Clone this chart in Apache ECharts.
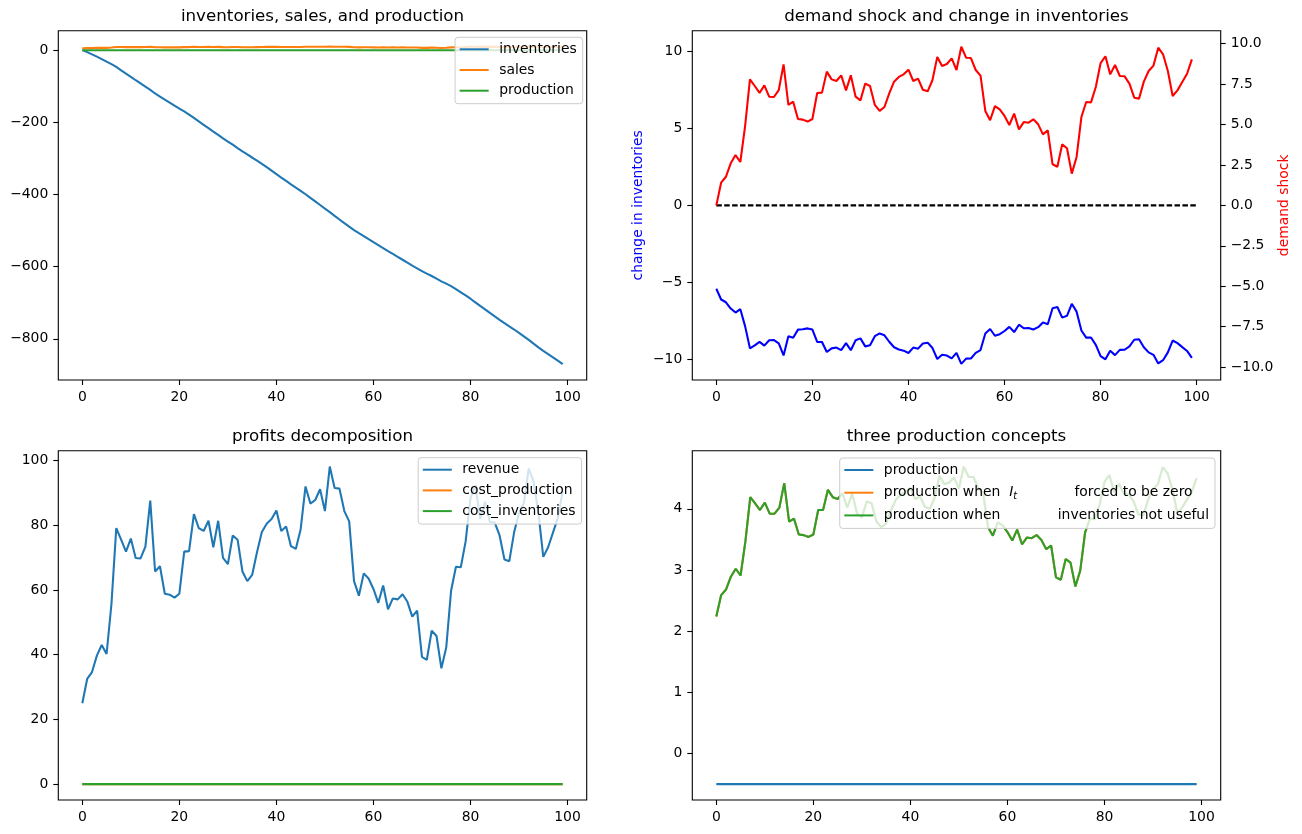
<!DOCTYPE html>
<html><head><meta charset="utf-8">
<script src="https://cdn.jsdelivr.net/npm/echarts@6/dist/echarts.min.js"></script>
<style>html,body{margin:0;padding:0;background:#fff}#c{width:1302px;height:834px}</style>
</head><body><div id="c"></div>
<script>
// ---- data ----
const t = Array.from({length: 100}, (_, i) => i);
const xTicks = [0, 20, 40, 60, 80, 100];

const inventories = [
  0, -5.48, -11.67, -18.04, -24.83, -31.88, -38.70, -46.66, -56.06, -65.26,
  -74.23, -83.45, -92.32, -101.17, -110.24, -120.10, -128.71, -137.41, -145.58, -153.73,
  -161.81, -169.98, -178.96, -187.95, -197.59, -206.99, -216.34, -225.86, -234.92, -244.44,
  -253.30, -262.05, -271.32, -280.52, -289.12, -297.54, -306.08, -315.05, -324.38, -333.85,
  -343.40, -353.10, -362.45, -371.87, -380.95, -389.98, -399.36, -409.45, -419.27, -429.14,
  -439.20, -448.89, -459.31, -469.39, -479.46, -489.15, -498.66, -507.08, -515.21, -523.78,
  -532.25, -540.51, -548.50, -556.83, -564.67, -572.75, -580.81, -588.97, -596.97, -604.67,
  -612.48, -619.25, -625.93, -633.31, -640.57, -647.05, -654.03, -662.26, -670.95, -679.64,
  -688.81, -698.71, -708.83, -718.38, -728.22, -737.73, -747.22, -756.49, -765.32, -774.13,
  -783.46, -793.12, -802.95, -813.34, -823.52, -833.18, -842.07, -851.12, -860.44, -870.01];

const sales = [
  4.93, 5.63, 5.81, 6.22, 6.48, 6.26, 7.38, 8.81, 8.61, 8.39,
  8.63, 8.28, 8.27, 8.48, 9.27, 8.02, 8.12, 7.59, 7.57, 7.51,
  7.59, 8.39, 8.40, 9.05, 8.81, 8.76, 8.93, 8.47, 8.93, 8.28,
  8.16, 8.68, 8.61, 8.02, 7.84, 7.96, 8.38, 8.74, 8.88, 8.96,
  9.11, 8.76, 8.83, 8.49, 8.44, 8.79, 9.50, 9.22, 9.28, 9.46,
  9.10, 9.82, 9.48, 9.47, 9.10, 8.92, 7.84, 7.55, 7.99, 7.89,
  7.68, 7.41, 7.75, 7.27, 7.50, 7.48, 7.58, 7.43, 7.12, 7.24,
  6.20, 6.12, 6.81, 6.69, 5.91, 6.42, 7.65, 8.11, 8.10, 8.58,
  9.31, 9.52, 8.96, 9.25, 8.91, 8.90, 8.68, 8.25, 8.22, 8.74,
  9.07, 9.23, 9.79, 9.58, 9.07, 8.30, 8.47, 8.73, 8.98, 9.43];

const production = Array(100).fill(-0.5);

const changeInventories = [
  -5.43, -6.13, -6.31, -6.72, -6.98, -6.76, -7.88, -9.31, -9.11, -8.89,
  -9.13, -8.78, -8.77, -8.98, -9.77, -8.52, -8.62, -8.09, -8.07, -8.01,
  -8.09, -8.89, -8.90, -9.55, -9.31, -9.26, -9.43, -8.97, -9.43, -8.78,
  -8.66, -9.18, -9.11, -8.52, -8.34, -8.46, -8.88, -9.24, -9.38, -9.46,
  -9.61, -9.26, -9.33, -8.99, -8.94, -9.29, -10.00, -9.72, -9.78, -9.96,
  -9.60, -10.32, -9.98, -9.97, -9.60, -9.42, -8.34, -8.05, -8.49, -8.39,
  -8.18, -7.91, -8.25, -7.77, -8.00, -7.98, -8.08, -7.93, -7.62, -7.74,
  -6.70, -6.62, -7.31, -7.19, -6.41, -6.92, -8.15, -8.61, -8.60, -9.08,
  -9.81, -10.02, -9.46, -9.75, -9.41, -9.40, -9.18, -8.75, -8.72, -9.24,
  -9.57, -9.73, -10.29, -10.08, -9.57, -8.80, -8.97, -9.23, -9.48, -9.93];

const demandShock = [
  0, 1.40, 1.77, 2.60, 3.11, 2.68, 4.91, 7.79, 7.38, 6.95,
  7.42, 6.72, 6.70, 7.13, 8.72, 6.21, 6.41, 5.34, 5.30, 5.18,
  5.34, 6.95, 6.97, 8.27, 7.79, 7.69, 8.04, 7.11, 8.04, 6.72,
  6.49, 7.53, 7.38, 6.21, 5.84, 6.08, 6.93, 7.65, 7.94, 8.10,
  8.39, 7.69, 7.84, 7.15, 7.05, 7.75, 9.18, 8.62, 8.74, 9.09,
  8.37, 9.81, 9.13, 9.11, 8.37, 8.02, 5.84, 5.26, 6.14, 5.94,
  5.53, 4.97, 5.67, 4.70, 5.15, 5.11, 5.32, 5.01, 4.39, 4.64,
  2.54, 2.39, 3.77, 3.53, 1.96, 2.99, 5.46, 6.39, 6.37, 7.32,
  8.80, 9.22, 8.10, 8.68, 8.00, 7.98, 7.53, 6.66, 6.60, 7.65,
  8.31, 8.64, 9.75, 9.34, 8.31, 6.76, 7.11, 7.63, 8.14, 9.03];

const zeroLineT = [0, 100];
const zeroLineV = [0, 0];

const revenue = [
  25.00, 32.49, 34.63, 39.69, 42.97, 40.20, 55.58, 79.12, 75.52, 71.83,
  75.86, 69.89, 69.72, 73.36, 87.61, 65.69, 67.32, 58.83, 58.52, 57.61,
  58.83, 71.83, 72.00, 83.45, 79.12, 78.23, 81.36, 73.19, 81.36, 69.89,
  67.98, 76.83, 75.52, 65.69, 62.73, 64.64, 71.66, 77.88, 80.46, 81.90,
  84.55, 78.23, 79.57, 73.53, 72.68, 78.77, 91.97, 86.68, 87.80, 91.11,
  84.36, 98.11, 91.49, 91.30, 84.36, 81.18, 62.73, 58.22, 65.12, 63.52,
  60.30, 56.03, 61.39, 54.02, 57.38, 57.08, 58.68, 56.33, 51.77, 53.58,
  39.31, 38.38, 47.40, 45.77, 35.76, 42.19, 59.75, 67.16, 66.99, 75.00,
  88.36, 92.35, 81.90, 87.24, 81.00, 80.82, 76.83, 69.39, 68.89, 77.88,
  83.81, 86.86, 97.52, 93.51, 83.81, 70.22, 73.19, 77.70, 82.26, 90.54];
const costProduction = Array(100).fill(0);
const costInventories = Array(100).fill(0);

const prodNotUseful = [
  2.24, 2.59, 2.68, 2.89, 3.02, 2.91, 3.47, 4.19, 4.09, 3.98,
  4.10, 3.92, 3.92, 4.02, 4.42, 3.79, 3.84, 3.58, 3.57, 3.54,
  3.58, 3.98, 3.98, 4.31, 4.19, 4.16, 4.25, 4.02, 4.25, 3.92,
  3.86, 4.12, 4.09, 3.79, 3.70, 3.76, 3.97, 4.15, 4.23, 4.27,
  4.34, 4.16, 4.20, 4.03, 4.00, 4.18, 4.54, 4.40, 4.43, 4.51,
  4.33, 4.69, 4.52, 4.52, 4.33, 4.25, 3.70, 3.56, 3.78, 3.73,
  3.62, 3.48, 3.66, 3.42, 3.53, 3.52, 3.57, 3.49, 3.34, 3.40,
  2.88, 2.84, 3.18, 3.12, 2.73, 2.99, 3.61, 3.84, 3.83, 4.07,
  4.44, 4.55, 4.27, 4.41, 4.24, 4.24, 4.12, 3.91, 3.89, 4.15,
  4.32, 4.40, 4.68, 4.58, 4.32, 3.93, 4.02, 4.15, 4.28, 4.50];
const prodForcedZero = prodNotUseful.slice();
const prodOptimal = Array(100).fill(-0.5);

// ---- chart ----
const FONT = 'DejaVu Sans';
const FS = 13.9;
const C = {blue: '#1f77b4', orange: '#ff7f0e', green: '#2ca02c'};
const minus = v => (v < 0 ? '\u2212' : '') + Math.abs(v);
const minus1 = v => (v < 0 ? '\u2212' : '') + Math.abs(v).toFixed(1);
const pairs = (xs, ys) => xs.map((x, i) => [x, ys[i]]);

const gridBox = (left, top) => ({left, top, width: 528.4, height: 349.3, show: true,
  borderColor: '#000', borderWidth: 1.1, backgroundColor: 'rgba(0,0,0,0)', outerBoundsMode: 'none', containLabel: false});

const tickStyle = {show: true, length: 5, inside: false, lineStyle: {color: '#000', width: 1.1}};
const labelStyle = {color: '#000', fontSize: FS, fontFamily: FONT, margin: 10};

function xAx(gi, min, max) {
  return {type: 'value', gridIndex: gi, min, max, position: 'bottom',
    axisLine: {show: false, onZero: false}, splitLine: {show: false},
    axisTick: Object.assign({customValues: xTicks}, tickStyle),
    axisLabel: Object.assign({customValues: xTicks, formatter: minus}, labelStyle)};
}
function yAx(gi, min, max, ticks, fmt, extra) {
  return Object.assign({type: 'value', gridIndex: gi, min, max, position: 'left',
    axisLine: {show: false, onZero: false}, splitLine: {show: false},
    axisTick: Object.assign({customValues: ticks}, tickStyle),
    axisLabel: Object.assign({customValues: ticks, formatter: fmt}, labelStyle)}, extra || {});
}
function line(name, xi, yi, xs, ys, color, extra) {
  return Object.assign({name, type: 'line', xAxisIndex: xi, yAxisIndex: yi, data: pairs(xs, ys),
    symbol: 'none', color, itemStyle: {color}, lineStyle: {color, width: 2.08}, silent: true, animation: false}, extra || {});
}

const BR1 = 'br_production', BR2 = 'br_forced_zero', BR3 = 'br_not_useful';
const brLabels = {};
brLabels[BR1] = 'production';
brLabels[BR2] = '{t|production when  }{i|I}{s|t}{t|             forced to be zero}';
brLabels[BR3] = 'production when             inventories not useful';

const legendBase = {orient: 'vertical', icon: 'rect', itemWidth: 29, itemHeight: 2, itemGap: 6.7,
  padding: [5, 6, 6, 4.6], backgroundColor: 'rgba(255,255,255,0.8)', borderColor: '#cccccc',
  borderWidth: 1, borderRadius: 3, selectedMode: false,
  textStyle: {color: '#000', fontSize: FS, fontFamily: FONT, lineHeight: 14, padding: [0, 0, 0, 5.5],
    rich: {
      t: {color: '#000', fontSize: FS, fontFamily: FONT, lineHeight: 14},
      i: {color: '#000', fontSize: FS, fontFamily: FONT, fontStyle: 'italic', lineHeight: 14},
      s: {color: '#000', fontSize: 9.7, fontFamily: FONT, fontStyle: 'italic', lineHeight: 10, padding: [8, 0, 0, 0]}
    }}};

const titleStyle = {fontSize: 16.7, fontWeight: 'normal', color: '#000', fontFamily: FONT};
const mkTitle = (text, x, y) => ({text, left: x, top: y, textAlign: 'center', padding: 0, textStyle: titleStyle});

const option = {
  animation: false,
  backgroundColor: '#fff',
  title: [
    mkTitle('inventories, sales, and production', 322.5, 8.3),
    mkTitle('demand shock and change in inventories', 956.5, 8.3),
    mkTitle('profits decomposition', 322.5, 428.3),
    mkTitle('three production concepts', 956.5, 428.3)
  ],
  grid: [gridBox(58.3, 30.7), gridBox(692.3, 30.7), gridBox(58.3, 450.7), gridBox(692.3, 450.7)],
  xAxis: [xAx(0, -4.95, 103.95), xAx(1, -5, 105), xAx(2, -4.95, 103.95), xAx(3, -4.95, 103.95)],
  yAxis: [
    yAx(0, -914.0, 53.8, [-800, -600, -400, -200, 0], minus),
    yAx(1, -11.37, 11.37, [-10, -5, 0, 5, 10], minus, {position: 'left', name: 'change in inventories',
      nameLocation: 'middle', nameGap: 47, nameRotate: 90,
      nameTextStyle: {color: '#0000ff', fontSize: FS, fontFamily: FONT}}),
    yAx(1, -10.8, 10.8, [-10, -7.5, -5, -2.5, 0, 2.5, 5, 7.5, 10], minus1, {position: 'right', name: 'demand shock',
      nameLocation: 'middle', nameGap: 55, nameRotate: 90,
      nameTextStyle: {color: '#ff0000', fontSize: FS, fontFamily: FONT}}),
    yAx(2, -4.906, 103.02, [0, 20, 40, 60, 80, 100], minus),
    yAx(3, -0.7595, 4.9495, [0, 1, 2, 3, 4], minus)
  ],
  legend: [
    Object.assign({}, legendBase, {data: ['inventories', 'sales', 'production'], right: 719.3, top: 37.3}),
    Object.assign({}, legendBase, {data: ['revenue', 'cost_production', 'cost_inventories'], right: 720.4, top: 457.7}),
    Object.assign({}, legendBase, {data: [BR1, BR2, BR3], right: 87, top: 458, formatter: n => brLabels[n]})
  ],
  series: [
    line('inventories', 0, 0, t, inventories, C.blue),
    line('sales', 0, 0, t, sales, C.orange),
    line('production', 0, 0, t, production, C.green),
    line('change in inventories', 1, 1, t, changeInventories, '#0000ff'),
    line('zero', 1, 1, zeroLineT, zeroLineV, '#000', {lineStyle: {color: '#000', width: 2.08, type: [5.5, 2.4]}}),
    line('demand shock', 1, 2, t, demandShock, '#ff0000'),
    line('revenue', 2, 3, t, revenue, C.blue),
    line('cost_production', 2, 3, t, costProduction, C.orange),
    line('cost_inventories', 2, 3, t, costInventories, C.green),
    line(BR1, 3, 4, t, prodOptimal, C.blue),
    line(BR2, 3, 4, t, prodForcedZero, C.orange),
    line(BR3, 3, 4, t, prodNotUseful, C.green)
  ]
};
const chart = echarts.init(document.getElementById('c'), null, {renderer: 'canvas'});
chart.setOption(option);
</script></body></html>
